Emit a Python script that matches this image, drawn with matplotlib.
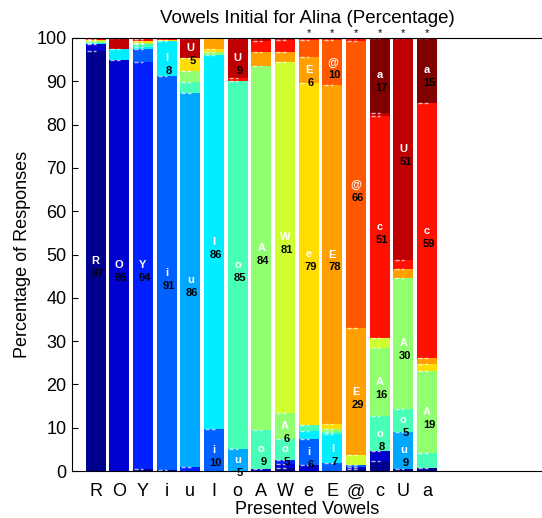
import matplotlib
matplotlib.use('Agg')
import matplotlib.pyplot as plt
import numpy as np

plt.rcParams['font.family'] = ['Liberation Sans', 'DejaVu Sans']

# presented vowels (bars) and response categories (stack order, bottom to top)
vowels = ['R', 'O', 'Y', 'i', 'u', 'I', 'o', 'A', 'W', 'e', 'E', '@', 'c', 'U', 'a']

# response percentages for each presented vowel, in the order of `vowels`
#           R    O    Y    i    u     I    o    A     W    e    E     @     c     U     a
pres_R = [97.0, 1.6, 0,   0,   0,    0.3, 0,   0.3,  0,   0.3, 0,    0,    0.3,  0.2,  0]
pres_O = [0,   95.0, 0,   0,   0,    2.5, 0,   0,    0,   0,   0,    0,    0,    2.5,  0]
pres_Y = [0.5,  0,  94.0, 3.0, 0,    0.5, 0.5, 0.4,  0,   0.4, 0,    0,    0.4,  0.3,  0]
pres_i = [0.3,  0,   0,  91.0, 0,    8.0, 0,   0,    0,   0.3, 0,    0,    0.4,  0,    0]
pres_u = [0,    0,   1.0, 0,  86.3,  0,   2.5, 2.5,  0,   3.0, 0,    0,    0,    4.7,  0]
pres_I = [0,    0,   0,   9.8, 0,   86.2, 0,   0.7,  0,   0.8, 2.5,  0,    0,    0,    0]
pres_o = [0,    0,   0,   0,   5.1,  0,  85.0, 0,    0,   0,   0,    0,    0.7,  9.2,  0]
pres_A = [0,    0.5, 0,   0,   0,    0,   9.0, 84.0, 0,   0,   3.2,  0,    2.5,  0.8,  0]
pres_W = [0.8,  0.8, 0.9, 0,   0,    0,   5.0, 6.0, 81.0, 0,   2.3,  0,    2.7,  0.5,  0]
pres_e = [0,    1.3, 0,   6.0, 0,    2.0, 1.4, 0,    0,  79.0, 6.0,  3.8,  0.5,  0,    0]
pres_E = [0,    0,   0,   1.8, 0,    6.7, 0.6, 0.7,  0,   1.0, 78.4, 10.3, 0.5,  0,    0]
pres_at = [0.4, 0.5, 0,   0.5, 0,    0,   0,   0,    2.3, 0,   29.3, 66.3, 0.7,  0,    0]
pres_c = [2.3,  2.3, 0,   0,   0,    0,   8.0, 15.9, 2.3, 0,   0,    0,    51.3, 0.6,  17.3]
pres_U = [0.5,  0,   0,   0,   8.6,  0,   5.3, 30.2, 0,   0,   2.0,  0,    2.2,  51.2, 0]
pres_a = [0.7,  0,   0,   0,   0,    0,   3.5, 19.0, 0,   1.6, 1.2,  0,    59.0, 0,    15.0]

# bars marked with an asterisk above
starred = ['e', 'E', '@', 'c', 'U', 'a']

colors = ['#00008F', '#0000CF', '#0020FF', '#0060FF', '#00A8FF', '#00EEFF', '#48FFB8',
          '#90FF70', '#D0FF30', '#FFDD00', '#FFA000', '#FF5800', '#FF1000', '#C00000', '#800000']

data = np.array([pres_R, pres_O, pres_Y, pres_i, pres_u, pres_I, pres_o, pres_A,
                 pres_W, pres_e, pres_E, pres_at, pres_c, pres_U, pres_a])

fig = plt.figure(figsize=(5.42, 5.18), dpi=100)
ax = fig.add_axes([72 / 542, 1 - 471 / 518, 1 - 72 / 542 + 0.002, (471 - 38) / 518])

x = np.arange(1, len(vowels) + 1)
w = 0.85
bottom = np.zeros(len(vowels))
for j, resp in enumerate(vowels):
    vals = data[:, j]
    ax.bar(x, vals, width=w, bottom=bottom, color=colors[j], linewidth=0)
    top = bottom + vals
    # white dashes marking the top of each segment
    has = vals > 0
    ax.hlines(top[has], x[has] - w / 2 + 0.05, x[has] + 0.02, colors=(1, 1, 1, 0.7),
              linewidth=1.0, linestyles=(0, (3, 1.5)))
    for k in range(len(vowels)):
        v = vals[k]
        if round(v) >= 5:
            mid = bottom[k] + v / 2
            ax.text(x[k], mid, resp, color='white', fontsize=8, fontweight='bold',
                    ha='center', va='center')
            ax.text(x[k] + 0.08, mid - 3, f'{round(v)}', color='black', fontsize=8,
                    fontweight='bold', ha='center', va='center')
    bottom = top

for k, v in enumerate(vowels):
    if v in starred:
        ax.text(x[k], 99.9, '*', ha='center', va='bottom', fontsize=8, clip_on=False)

ax.set_xlim(0, 19.9)
ax.set_ylim(0, 100)
ax.set_yticks(np.arange(0, 101, 10))
ax.set_xticks(x)
ax.set_xticklabels(vowels, fontsize=13)
ax.tick_params(axis='y', labelsize=13, direction='in', length=4, pad=4)
ax.tick_params(axis='x', direction='in', length=0, pad=9)
ax.spines['right'].set_visible(False)

ax.set_title('Vowels Initial for Alina (Percentage)', fontsize=13.5, pad=11)
ax.set_ylabel('Percentage of Responses', fontsize=13, labelpad=4)
ax.set_xlabel('Presented Vowels', fontsize=13, labelpad=0)

fig.savefig('out.png', dpi=100)
